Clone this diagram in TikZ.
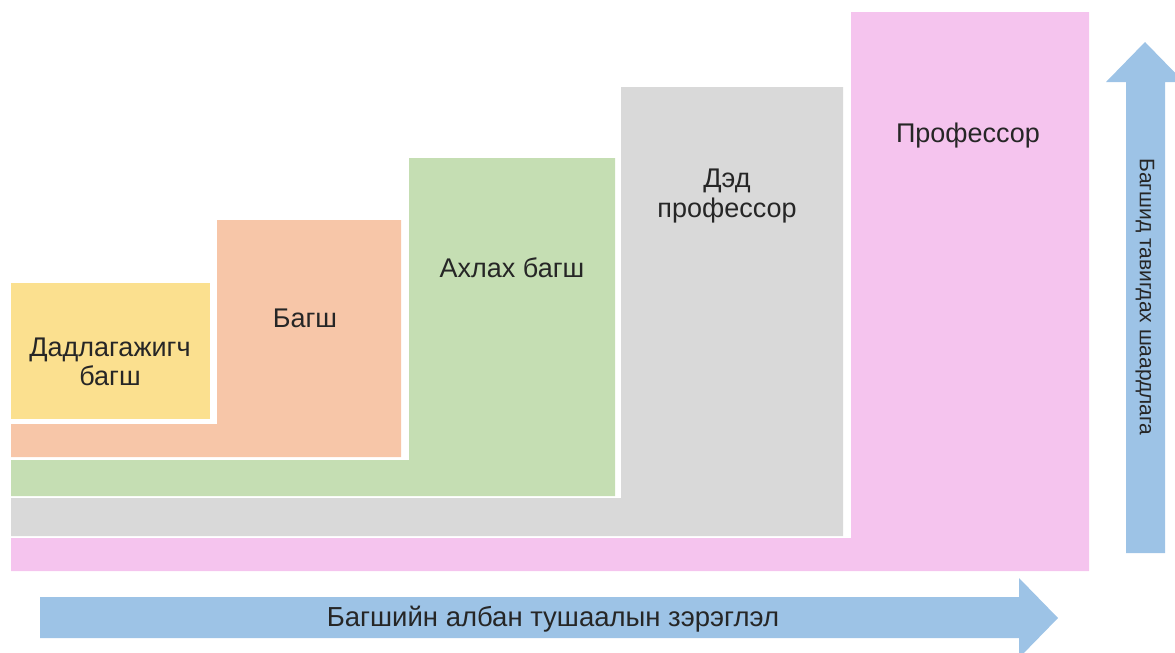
\documentclass[tikz,border=0pt]{standalone}
\usepackage{fontspec}
\setmainfont{Liberation Sans}
\definecolor{cyellow}{HTML}{FBE08F}
\definecolor{corange}{HTML}{F7C6A8}
\definecolor{cgreen}{HTML}{C5DEB3}
\definecolor{cgray}{HTML}{D9D9D9}
\definecolor{cpink}{HTML}{F5C4EE}
\definecolor{cblue}{HTML}{9DC3E6}
\definecolor{ctext}{HTML}{262626}
\begin{document}
\begin{tikzpicture}[x=1pt,y=-1pt,
  lbl/.style={text=ctext,font=\fontsize{27}{29.5}\selectfont,align=center,inner sep=0pt},
  lblv/.style={text=ctext,font=\fontsize{21}{24}\selectfont,inner sep=0pt,rotate=-90},
  lblh/.style={text=ctext,font=\fontsize{27.5}{30}\selectfont,inner sep=0pt}]
\useasboundingbox (0,0) rectangle (1175,653);
\clip (0,0) rectangle (1175,653);
% levels
\fill[cpink]   (11,538) -- (851,538) -- (851,12) -- (1089,12) -- (1089,571) -- (11,571) -- cycle;
\fill[cgray]   (11,498) -- (621,498) -- (621,87) -- (843,87) -- (843,536) -- (11,536) -- cycle;
\fill[cgreen]  (11,460) -- (409,460) -- (409,158) -- (615,158) -- (615,496) -- (11,496) -- cycle;
\fill[corange] (11,424) -- (217,424) -- (217,220) -- (401,220) -- (401,457) -- (11,457) -- cycle;
\fill[cyellow] (11,283) rectangle (210,419);
% arrows
\fill[cblue] (1126,553) -- (1126,82) -- (1106,82) -- (1145,42) -- (1184,82) -- (1165,82) -- (1165,553) -- cycle;
\fill[cblue] (40,597) -- (1019,597) -- (1019,578) -- (1058,618) -- (1019,658) -- (1019,638) -- (40,638) -- cycle;
% labels
\node[lbl] (l1) at (110,362) {Дадлагажигч\\багш};
\node[lbl] (l2) at (305,318) {Багш};
\node[lbl] (l3) at (512,268) {Ахлах багш};
\node[lbl] (l4) at (727,196) {Дэд\\профессор};
\node[lbl] (l5) at (968,136) {Профессор};
\node[lblv] (lv) at (1145,297) {Багшид тавигдах шаардлага};
\node[lblh] (lh) at (553,619) {Багшийн албан тушаалын зэрэглэл};
\end{tikzpicture}
\end{document}
